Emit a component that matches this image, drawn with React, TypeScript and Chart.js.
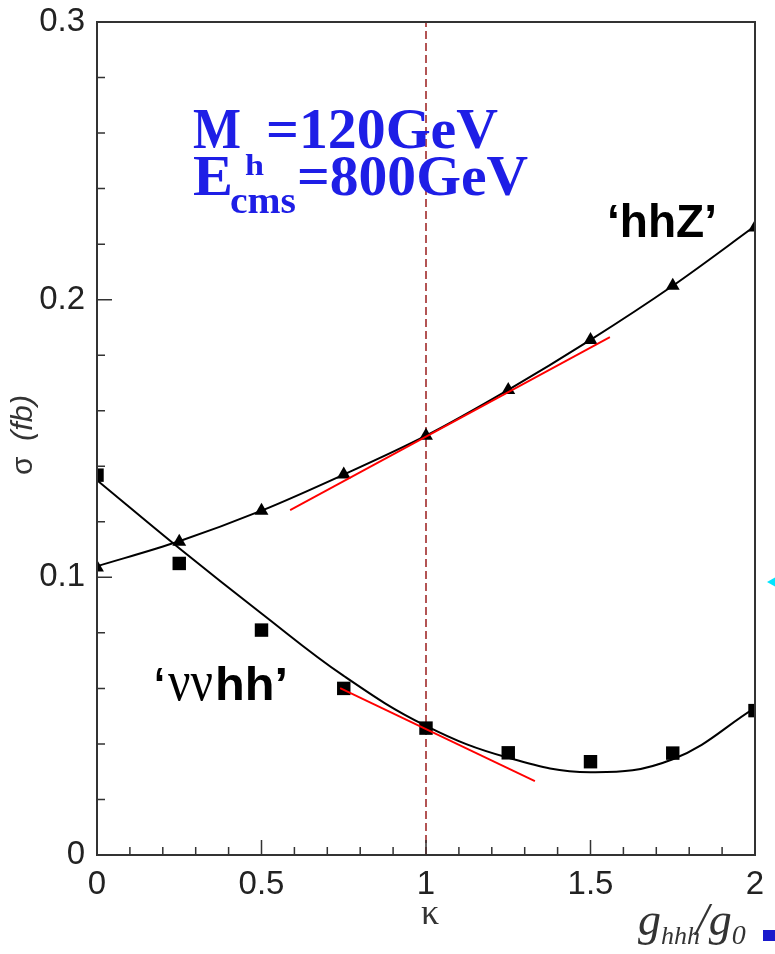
import React, { useEffect, useRef } from 'react';
import { Chart, registerables } from 'chart.js';
Chart.register(...registerables);

// ---- data ----
const kappa = [0, 0.25, 0.5, 0.75, 1, 1.25, 1.5, 1.75, 2];
const hhzPoints = [0.1035, 0.1128, 0.124, 0.137, 0.151, 0.1675, 0.1855, 0.205, 0.226];
const vvhhPoints = [0.1368, 0.105, 0.081, 0.060, 0.0457, 0.0368, 0.0336, 0.0367, 0.052];
const hhzFit = [0.104, 0.113, 0.124, 0.137, 0.151, 0.1675, 0.1855, 0.205, 0.2265];
const vvhhFit = [0.135, 0.1105, 0.087, 0.0645, 0.0465, 0.035, 0.0298, 0.0345, 0.053];
const tanHhzK = [0.587, 1.559];
const tanHhzV = [0.1242, 0.1865];
const tanVvhhK = [0.739, 1.331];
const tanVvhhV = [0.0601, 0.0266];
const refK = [1, 1];
const refV = [0, 0.3];
const xTickLabels = ['0', '0.5', '1', '1.5', '2'];
const yTickLabels = ['0', '0.1', '0.2', '0.3'];

const pts = (xs: number[], ys: number[]) => xs.map((x, i) => ({ x, y: ys[i] }));
const fmt = (v: number) => String(Math.round(v * 10) / 10);
const isMajorX = (v: number) => xTickLabels.includes(fmt(v)) && Math.abs(v * 2 - Math.round(v * 2)) < 1e-6;
const isMajorY = (v: number) => yTickLabels.includes(fmt(v)) && Math.abs(v * 10 - Math.round(v * 10)) < 1e-6;

function fitText(ctx: CanvasRenderingContext2D, text: string, x: number, y: number, width: number) {
  const w = ctx.measureText(text).width;
  ctx.save();
  ctx.translate(x, y);
  ctx.scale(width / w, 1);
  ctx.fillText(text, 0, 0);
  ctx.restore();
}

const decorPlugin = {
  id: 'decor',
  afterDraw(chart: any) {
    const { ctx, chartArea: a, scales } = chart;
    ctx.save();
    // frame
    ctx.strokeStyle = '#333';
    ctx.lineWidth = 2;
    ctx.strokeRect(a.left, a.top, a.right - a.left, a.bottom - a.top);
    // inward ticks
    ctx.lineWidth = 1.5;
    ctx.beginPath();
    scales.x.ticks.forEach((t: any) => {
      const px = scales.x.getPixelForValue(t.value);
      const len = isMajorX(t.value) ? 15 : 8;
      ctx.moveTo(px, a.bottom);
      ctx.lineTo(px, a.bottom - len);
    });
    scales.y.ticks.forEach((t: any) => {
      const py = scales.y.getPixelForValue(t.value);
      const len = isMajorY(t.value) ? 15 : 8;
      ctx.moveTo(a.left, py);
      ctx.lineTo(a.left + len, py);
    });
    ctx.stroke();

    ctx.textAlign = 'left';
    ctx.textBaseline = 'alphabetic';

    // blue annotation
    ctx.fillStyle = '#1e1ee6';
    ctx.font = 'bold 58px "Liberation Serif"';
    fitText(ctx, 'M', 193, 148, 48);
    ctx.font = 'bold 30px "Liberation Serif"';
    fitText(ctx, 'h', 245, 175, 19);
    ctx.font = 'bold 58px "Liberation Serif"';
    fitText(ctx, '=120GeV', 266, 148, 232);
    fitText(ctx, 'E', 193, 195, 40);
    ctx.font = 'bold 38px "Liberation Serif"';
    fitText(ctx, 'cms', 230, 213, 66);
    ctx.font = 'bold 58px "Liberation Serif"';
    fitText(ctx, '=800GeV', 297, 195, 231);

    // series labels
    ctx.fillStyle = '#000';
    ctx.font = 'bold 47px "Liberation Sans"';
    fitText(ctx, '\u2018hhZ\u2019', 607, 237, 110);
    ctx.font = 'bold 46px "Liberation Sans"';
    fitText(ctx, '\u2018', 154, 700, 11);
    ctx.font = '56px "Liberation Serif"';
    fitText(ctx, '\u03bd\u03bd', 168, 700, 45);
    ctx.font = 'bold 46px "Liberation Sans"';
    fitText(ctx, 'hh\u2019', 215, 700, 73);

    // y-axis title
    ctx.fillStyle = '#333';
    ctx.save();
    ctx.translate(32, 435);
    ctx.rotate(-Math.PI / 2);
    ctx.font = '30px "Liberation Sans"';
    ctx.fillText('\u03c3', -40, 0);
    ctx.font = 'italic 30px "Liberation Sans"';
    fitText(ctx, '(fb)', -6, 0, 46);
    ctx.restore();

    // x-axis titles
    ctx.fillStyle = '#333';
    ctx.font = '36px "Liberation Serif"';
    ctx.textAlign = 'center';
    ctx.fillText('\u03ba', 430, 924);
    ctx.textAlign = 'left';
    let x = 638;
    ctx.font = 'italic 46px "Liberation Serif"';
    ctx.fillText('g', x, 935); x += ctx.measureText('g').width;
    ctx.font = 'italic 26px "Liberation Serif"';
    ctx.fillText('hhh', x, 944); x += ctx.measureText('hhh').width - 4;
    ctx.font = 'italic 46px "Liberation Serif"';
    ctx.fillText('/', x, 935); x += ctx.measureText('/').width;
    ctx.fillText('g', x, 935); x += ctx.measureText('g').width;
    ctx.font = 'italic 28px "Liberation Serif"';
    ctx.fillText('0', x, 944);

    // small edge decorations
    ctx.fillStyle = '#1a1acc';
    ctx.fillRect(763, 930, 12, 11);
    ctx.fillStyle = '#00e5ff';
    ctx.beginPath();
    ctx.moveTo(767, 582);
    ctx.lineTo(776, 577);
    ctx.lineTo(776, 587);
    ctx.closePath();
    ctx.fill();
    ctx.restore();
  },
};

export default function App() {
  const ref = useRef<HTMLCanvasElement>(null);
  useEffect(() => {
    document.body.style.margin = '0';
    const chart = new Chart(ref.current!, {
      type: 'line',
      data: {
        datasets: [
          {
            data: pts(refK, refV),
            borderColor: '#9b1c1c',
            borderWidth: 1.5,
            borderDash: [8, 4],
            pointRadius: 0,
            order: 10,
          },
          {
            data: pts(kappa, hhzFit),
            borderColor: '#000',
            borderWidth: 2,
            pointRadius: 0,
            cubicInterpolationMode: 'monotone',
            order: 6,
          },
          {
            data: pts(kappa, vvhhFit),
            borderColor: '#000',
            borderWidth: 2,
            pointRadius: 0,
            tension: 0.4,
            order: 6,
          },
          {
            data: pts(kappa, hhzPoints),
            showLine: false,
            pointStyle: 'triangle',
            pointRadius: 8,
            backgroundColor: '#000',
            borderColor: '#000',
            borderWidth: 0,
            clip: 0,
            order: 4,
          },
          {
            data: pts(kappa, vvhhPoints),
            showLine: false,
            pointStyle: 'rect',
            pointRadius: 9.5,
            backgroundColor: '#000',
            borderColor: '#000',
            borderWidth: 0,
            clip: 0,
            order: 4,
          },
          {
            data: pts(tanHhzK, tanHhzV),
            borderColor: '#ff0000',
            borderWidth: 1.8,
            pointRadius: 0,
            order: 2,
          },
          {
            data: pts(tanVvhhK, tanVvhhV),
            borderColor: '#ff0000',
            borderWidth: 1.8,
            pointRadius: 0,
            order: 2,
          },
        ] as any,
      },
      options: {
        animation: false,
        responsive: false,
        devicePixelRatio: 1,
        layout: { padding: { top: 22, right: 20, left: 0, bottom: 0 } },
        plugins: { legend: { display: false }, tooltip: { enabled: false } },
        scales: {
          x: {
            type: 'linear',
            min: 0,
            max: 2,
            grid: { display: false, drawTicks: false },
            border: { display: false },
            ticks: {
              stepSize: 0.1,
              autoSkip: false,
              maxRotation: 0,
              padding: 10,
              color: '#222',
              font: { family: 'Liberation Sans', size: 33 },
              callback: (v: any) => (isMajorX(Number(v)) ? fmt(Number(v)) : ''),
            },
            afterFit: (s: any) => { s.height = 99; },
          },
          y: {
            type: 'linear',
            min: 0,
            max: 0.3,
            grid: { display: false, drawTicks: false },
            border: { display: false },
            ticks: {
              stepSize: 0.02,
              autoSkip: false,
              padding: 12,
              color: '#222',
              font: { family: 'Liberation Sans', size: 33, lineHeight: 0.6 },
              callback: (v: any) => (isMajorY(Number(v)) ? fmt(Number(v)) : ''),
            },
            afterFit: (s: any) => { s.width = 97; },
          },
        },
      },
      plugins: [decorPlugin],
    });
    return () => chart.destroy();
  }, []);
  return <canvas ref={ref} width={775} height={954} style={{ display: 'block' }} />;
}
